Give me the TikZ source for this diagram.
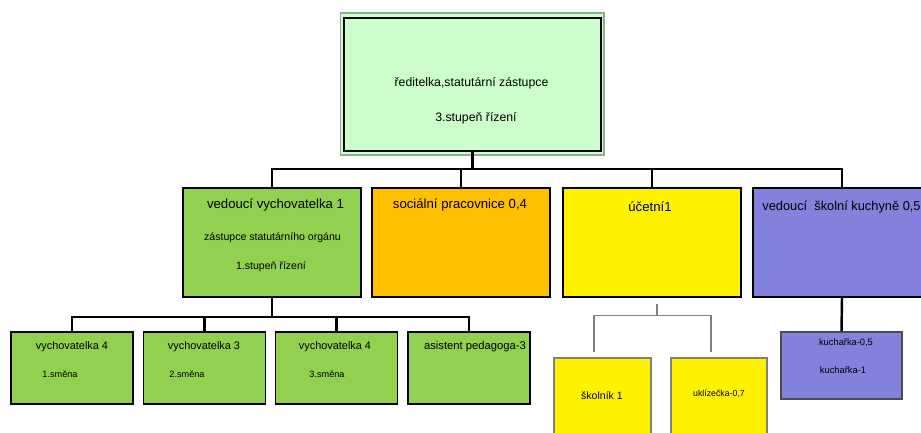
\documentclass[tikz,border=0pt]{standalone}
\usepackage{fontspec}
\setmainfont{Liberation Sans}
\usepackage{xcolor}
\usepackage{tikz}
\usetikzlibrary{shapes,arrows,positioning}

\definecolor{topgreen}{HTML}{CCFFCC}
\definecolor{rimgreen}{HTML}{8FB08F}
\definecolor{leafgreen}{HTML}{92D050}
\definecolor{amber}{HTML}{FFC000}
\definecolor{lilac}{HTML}{8282DC}
\newcommand{\txtsize}[1]{\fontsize{#1}{#1}\selectfont}

\begin{document}
\begin{tikzpicture}[x=0.02cm, y=-0.02cm,
  box/.style={rectangle, draw=black, line width=1.3pt, inner sep=0pt},
  smallbox/.style={rectangle, draw=black, line width=1pt, inner sep=0pt, fill=leafgreen, minimum width=2.44cm, minimum height=1.44cm},
  conn/.style={line width=1.4pt},
  thinconn/.style={draw=gray, line width=0.6pt},
  lbl/.style={inner sep=0pt}]
\useasboundingbox (0,0) rectangle (921,433);

% top
\node (rim) [rectangle, draw=rimgreen, line width=0.6pt, fill=topgreen, minimum width=5.28cm, minimum height=2.84cm] at (472,84) {};
\node (top) [box, fill=topgreen, minimum width=5.14cm, minimum height=2.66cm] at (472.5,84.5) {};
\node (toptext1) [lbl, font=\txtsize{7}] at (471.5,83) {ředitelka,statutární zástupce};
\node (toptext2) [lbl, font=\txtsize{7}] at (476,118) {3.stupeň řízení};

% second level
\node (vedouci) [box, fill=leafgreen, minimum width=3.56cm, minimum height=2.18cm] at (272,242.5) {};
\node (socialni) [box, fill=amber, minimum width=3.56cm, minimum height=2.18cm] at (461,242.5) {};
\node (ucetni) [box, fill=yellow, minimum width=3.56cm, minimum height=2.18cm] at (652,242.5) {};
\node (kuchyne) [box, fill=lilac, minimum width=3.56cm, minimum height=2.18cm] at (842,242.5) {};

\node (vedtext1) [lbl, font=\txtsize{7.5}] at (275.5,205) {vedoucí vychovatelka 1};
\node (vedtext2) [lbl, font=\txtsize{6}] at (272.5,238) {zástupce statutárního orgánu};
\node (vedtext3) [lbl, font=\txtsize{6}] at (271,267) {1.stupeň řízení};
\node (soctext) [lbl, font=\txtsize{7.5}] at (460,205) {sociální pracovnice 0,4};
\node (uctext) [lbl, font=\txtsize{7.5}] at (650,207) {účetní1};
\node (kuchtext) [lbl, font=\txtsize{7.3}, anchor=west] at (762,207) {vedoucí \ školní kuchyně 0,5};

% third level
\node (vych1) [smallbox] at (72,368) {};
\node (vych2) [smallbox] at (204.5,368) {};
\node (vych3) [smallbox] at (336.5,368) {};
\node (asistent) [smallbox] at (469,368) {};

\node (vych1a) [lbl, font=\txtsize{6.2}] at (72,347) {vychovatelka 4};
\node (vych1b) [lbl, font=\txtsize{5.2}] at (60,374) {1.směna};
\node (vych2a) [lbl, font=\txtsize{6.2}] at (204,347) {vychovatelka 3};
\node (vych2b) [lbl, font=\txtsize{5.2}] at (187,374) {2.směna};
\node (vych3a) [lbl, font=\txtsize{6.2}] at (335,347) {vychovatelka 4};
\node (vych3b) [lbl, font=\txtsize{5.2}] at (327,374) {3.směna};
\node (asisttext) [lbl, font=\txtsize{6.4}] at (475,347) {asistent pedagoga-3};

\node (skolnik) [rectangle, draw=gray, line width=0.6pt, fill=yellow, minimum width=1.94cm, minimum height=1.76cm] at (602.5,402) {};
\node (uklizecka) [rectangle, draw=gray, line width=0.6pt, fill=yellow, minimum width=1.92cm, minimum height=1.76cm] at (719,402) {};
\node (kucharka) [rectangle, draw=black!70, line width=0.7pt, fill=lilac, minimum width=2.42cm, minimum height=1.34cm] at (841.5,365.5) {};

\node (skoltext) [lbl, font=\txtsize{6}] at (602,396) {školník 1};
\node (uklitext) [lbl, font=\txtsize{5}] at (719,394) {uklízečka-0,7};
\node (kuchar1) [lbl, font=\txtsize{5.3}] at (846,343) {kuchařka-0,5};
\node (kuchar2) [lbl, font=\txtsize{5.3}] at (843,370) {kuchařka-1};

% connectors
\draw[conn] (top.south) -- ++(0,17) -| (vedouci.north);
\draw[conn] (top.south) -- ++(0,17) -| (socialni.north);
\draw[conn] (top.south) -- ++(0,17) -| (ucetni.north);
\draw[conn] (top.south) -- ++(0,17) -| (kuchyne.north);

\draw[conn] (vedouci.south) -- ++(0,19) -| (vych1.north);
\draw[conn] (vedouci.south) -- ++(0,19) -| (vych2.north);
\draw[conn] (vedouci.south) -- ++(0,19) -| (vych3.north);
\draw[conn] (vedouci.south) -- ++(0,19) -| (asistent.north);

\draw[thinconn] ([xshift=0.1cm,yshift=-0.12cm]ucetni.south) -- ++(0,11) -| ([xshift=-0.17cm,yshift=0.1cm]skolnik.north);
\draw[thinconn] ([xshift=0.1cm,yshift=-0.12cm]ucetni.south) -- ++(0,11) -| ([xshift=-0.16cm,yshift=0.1cm]uklizecka.north);

\draw[conn] (kuchyne.south) -- (kucharka.north);
\end{tikzpicture}
\end{document}
